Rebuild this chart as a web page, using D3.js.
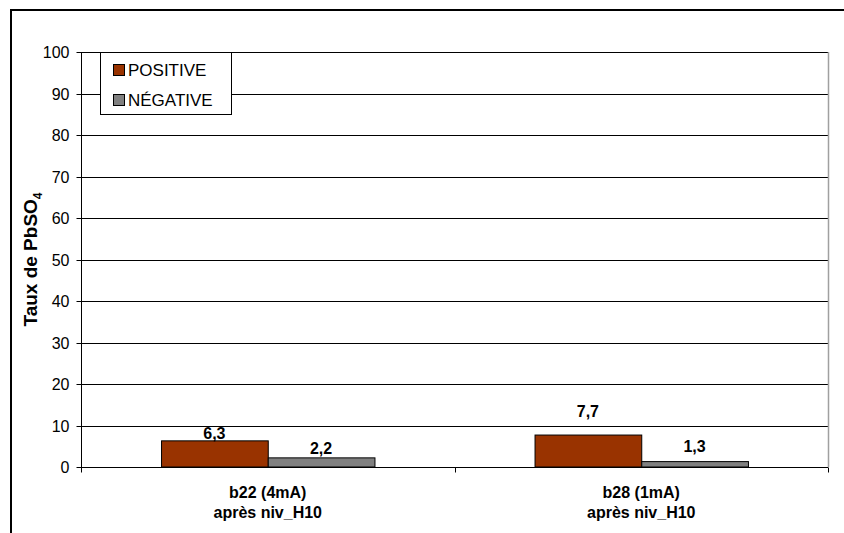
<!DOCTYPE html>
<html><head><meta charset="utf-8">
<script src="https://cdn.jsdelivr.net/npm/d3@7"></script>
<style>body{margin:0;background:#fff}svg{display:block;font-family:"Liberation Sans",Arial,sans-serif}</style>
</head><body><svg id="c" width="844" height="533"></svg>
<script>
const categories = ["b22 (4mA)|après niv_H10", "b28 (1mA)|après niv_H10"];
const seriesNames = ["POSITIVE", "NÉGATIVE"];
const positive = [6.3, 7.7];
const negative = [2.2, 1.3];
const yTicks = [0,10,20,30,40,50,60,70,80,90,100];
const colors = ["#993300", "#808080"];
const labelDy = [[-2, -18], [-4, -10]]; // label offsets above bars (px) per series

const FONT = "Liberation Sans, Arial, sans-serif";
const svg = d3.select("#c");
const m = {l:81, r:828, t:52, b:467};
const x0 = d3.scaleBand().domain(categories).range([m.l, m.r]).paddingInner(0).paddingOuter(0);
const x1 = d3.scaleBand().domain(seriesNames).range([0, x0.bandwidth()]).paddingInner(0).paddingOuter(0.75);
const y = d3.scaleLinear().domain([0,100]).range([m.b, m.t]);

// outer frame
svg.append("rect").attr("x",11).attr("y",10).attr("width",850).attr("height",540)
  .attr("fill","none").attr("stroke","#000").attr("stroke-width",2);

// gridlines
svg.append("g").selectAll("line").data(yTicks.filter(d=>d>0)).join("line")
  .attr("x1",m.l).attr("x2",m.r).attr("y1",d=>Math.round(y(d))+0.5).attr("y2",d=>Math.round(y(d))+0.5)
  .attr("stroke","#000").attr("stroke-width",1);
// right plot border
svg.append("line").attr("x1",m.r+0.5).attr("x2",m.r+0.5).attr("y1",m.t).attr("y2",m.b)
  .attr("stroke","#a0a0a0").attr("stroke-width",1.5);

// y axis
const ya = svg.append("g").attr("transform",`translate(${m.l+0.5},0)`)
  .call(d3.axisLeft(y).tickValues(yTicks).tickSize(5).tickPadding(7).tickFormat(d3.format("d")));
ya.selectAll("path.domain").attr("stroke","#000").attr("d",`M0,${m.t}V${m.b}`);
ya.selectAll(".tick line").attr("stroke","#000");
ya.selectAll(".tick text").attr("font-size",16).attr("fill","#000").attr("font-family",FONT);
ya.selectAll(".tick").attr("transform",d=>`translate(0,${Math.round(y(d))+0.5})`);

// x axis
const xa = svg.append("g").attr("transform",`translate(0,${Math.round(y(0))+0.5})`);
xa.append("line").attr("x1",m.l).attr("x2",m.r).attr("stroke","#000");
const xt = [m.l, ...categories.map(c=>x0(c)+x0.bandwidth())];
xa.selectAll("line.t").data(xt).join("line").attr("class","t")
  .attr("x1",d=>Math.round(d)+0.5).attr("x2",d=>Math.round(d)+0.5).attr("y1",0).attr("y2",5).attr("stroke","#000");

// bars
const data = categories.map((c,i)=>({c, vals:[positive[i], negative[i]]}));
const g = svg.append("g").selectAll("g").data(data).join("g").attr("transform",d=>`translate(${x0(d.c)},0)`);
g.selectAll("rect").data((d)=>d.vals.map((v,j)=>({v,j}))).join("rect")
  .attr("x",d=>x1(seriesNames[d.j])+0.5).attr("width",x1.bandwidth())
  .attr("y",d=>y(d.v)).attr("height",d=>y(0)-y(d.v))
  .attr("fill",d=>colors[d.j]).attr("stroke","#000").attr("stroke-width",1);
g.each(function(d,i){
  d3.select(this).selectAll("text.v").data(d.vals.map((v,j)=>({v,j}))).join("text").attr("class","v")
    .attr("x",e=>x1(seriesNames[e.j])+x1.bandwidth()/2)
    .attr("y",e=>y(e.v)+labelDy[e.j][i])
    .attr("text-anchor","middle").attr("font-size",16).attr("font-weight","bold")
    .text(e=>String(e.v).replace(".",","));
});

// category labels
categories.forEach(c=>{
  const cx = x0(c)+x0.bandwidth()/2;
  const t = svg.append("text").attr("x",cx).attr("y",498)
    .attr("text-anchor","middle").attr("font-size",16).attr("font-weight","bold");
  c.split("|").forEach((s,k)=>t.append("tspan").attr("x",cx).attr("dy",k?20:0).text(s));
});

// y title
const yt = svg.append("text").attr("transform",`translate(37,${(m.t+m.b)/2}) rotate(-90)`)
  .attr("text-anchor","middle").attr("font-size",19).attr("font-weight","bold");
yt.append("tspan").text("Taux de PbSO");
yt.append("tspan").attr("font-size",12).attr("dy",5).text("4");

// legend
const lg = svg.append("g");
lg.append("rect").attr("x",100.5).attr("y",52.5).attr("width",131).attr("height",62)
  .attr("fill","#fff").attr("stroke","#000");
seriesNames.forEach((s,i)=>{
  lg.append("rect").attr("x",113.5).attr("y",64.5+i*30).attr("width",11).attr("height",11)
    .attr("fill",colors[i]).attr("stroke","#000");
  lg.append("text").attr("x",128).attr("y",76+i*30).attr("font-size",17).text(s);
});
</script></body></html>
